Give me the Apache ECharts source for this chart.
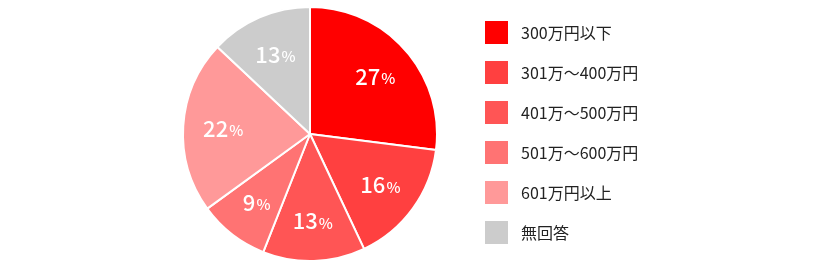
<!DOCTYPE html>
<html><head><meta charset="utf-8">
<script src="https://cdn.jsdelivr.net/npm/echarts@6/dist/echarts.min.js"></script>
<style>html,body{margin:0;padding:0;background:#fff}#c{width:820px;height:270px}</style>
</head><body><div id="c"></div>
<script>
const categories = ['300万円以下','301万～400万円','401万～500万円','501万～600万円','601万円以上','無回答'];
const values = [27, 16, 13, 9, 22, 13];
const colors = ['#ff0000','#ff4040','#ff5555','#ff7373','#ff9999','#cccccc'];

const data = categories.map((n, i) => ({ name: n, value: values[i], itemStyle: { color: colors[i] } }));
const labelData = categories.map((n, i) => ({ name: n, value: values[i] }));
const font = '"Noto Sans CJK JP", "Noto Sans", sans-serif';

const chart = echarts.init(document.getElementById('c'), null, { renderer: 'canvas' });
chart.setOption({
  animation: false,
  legend: {
    orient: 'vertical',
    left: 483, top: 19, padding: 0,
    itemWidth: 25, itemHeight: 25, itemGap: 13,
    icon: 'rect',
    textStyle: { fontFamily: font, fontSize: 16, lineHeight: 25, color: '#222', padding: [0, 0, 0, 7] },
    data: categories
  },
  series: [
    {
      type: 'pie', center: [310, 134], radius: [0, 127],
      startAngle: 90, clockwise: true, silent: true,
      itemStyle: { borderColor: '#fff', borderWidth: 2 },
      label: { show: false }, labelLine: { show: false },
      data: data
    },
    {
      type: 'pie', center: [310, 134], radius: [41, 127],
      startAngle: 90, clockwise: true, silent: true, legendHoverLink: false,
      itemStyle: { color: 'rgba(0,0,0,0)', borderWidth: 0 },
      labelLine: { show: false },
      label: {
        show: true, position: 'inside',
        formatter: p => '{n|' + p.value + '}{p|%}',
        rich: {
          n: { fontFamily: font, fontSize: 22, fontWeight: 500, color: '#fff' },
          p: { fontFamily: font, fontSize: 15, fontWeight: 500, color: '#fff', padding: [4, 0, 0, 1] }
        }
      },
      data: labelData
    }
  ]
});
</script></body></html>
